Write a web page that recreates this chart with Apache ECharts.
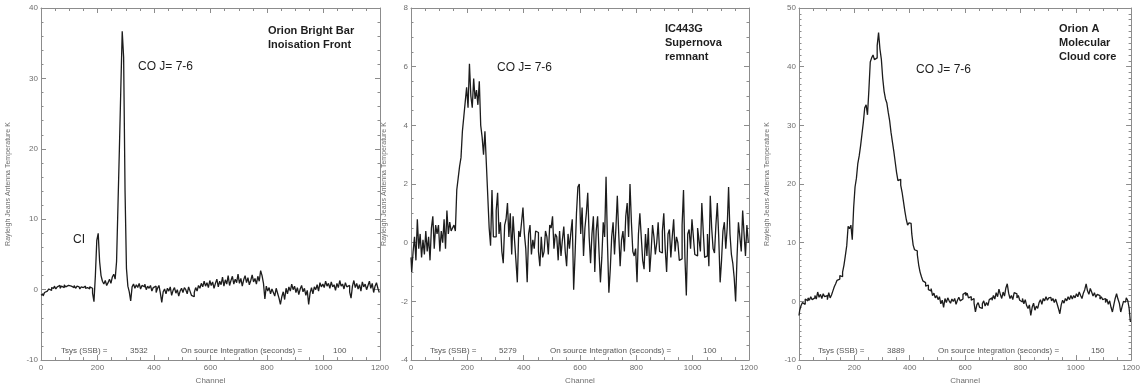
<!DOCTYPE html>
<html>
<head>
<meta charset="utf-8">
<script src="https://cdn.jsdelivr.net/npm/echarts@6/dist/echarts.min.js"></script>
<style>
  html, body { margin: 0; padding: 0; background: #fff; }
  #chart { width: 1143px; height: 390px; }
</style>
</head>
<body>
<div id="chart"></div>
<script>
// spectra sampled every 5 channels, 0..1200
const CHANNEL_STEP = 5;

const orionBar = [
  -0.8,-0.6,-0.9,-0.4,-0.2,-0.3,0.1,-0.1,0.3,0.2,0.5,0.1,0.4,0.6,0.2,0.5,0.3,0.7,0.4,0.6,
  0.8,0.5,0.7,0.3,0.6,0.2,0.5,0.4,0.1,0.4,0.3,0.5,0.2,0.3,0.1,0.4,0.2,-0.5,-1.7,2.0,
  7.0,8.0,4.0,2.0,1.2,0.8,1.3,0.6,1.0,1.5,0.9,1.8,2.2,1.5,4.0,12.0,20.0,28.5,36.7,33.0,
  14.0,3.0,0.5,-0.3,-1.6,0.4,0.8,0.2,0.7,0.3,0.9,0.1,0.6,0.4,0.8,0.0,0.5,0.2,0.6,-0.2,
  0.3,0.5,-0.4,0.2,0.6,-0.5,-1.8,-0.3,0.1,-0.6,0.2,-0.2,0.4,-0.8,-0.1,0.3,-0.5,0.0,-0.9,-0.2,
  0.2,-0.4,0.3,0.0,-0.6,0.4,-0.2,-0.8,-1.0,-0.4,0.3,-0.2,0.6,0.2,0.9,0.4,1.2,0.5,1.0,0.3,
  1.3,0.6,1.1,0.2,0.9,1.5,0.4,1.2,0.7,1.8,0.5,1.4,0.8,2.0,0.6,1.3,1.9,0.8,1.5,1.0,
  2.2,0.9,1.6,0.5,1.4,2.0,1.0,1.7,0.7,1.3,2.1,1.1,1.6,0.8,1.9,1.2,2.7,2.0,0.9,-1.3,
  0.5,-0.2,0.3,-0.6,0.1,-0.4,-0.9,0.2,-0.5,-1.2,-2.1,-1.0,-0.3,-1.4,0.2,-0.6,0.4,-0.2,0.8,0.0,
  0.5,-0.4,0.3,-0.7,0.1,0.6,-0.3,0.2,-0.8,-0.1,-2.1,-0.5,0.3,-0.6,0.4,0.0,0.7,-0.2,1.0,0.4,
  0.8,0.3,1.2,0.5,0.9,0.2,1.1,0.4,0.7,-0.1,0.9,0.3,1.3,0.5,0.8,0.1,1.0,0.4,0.6,-0.3,
  -1.2,0.5,1.3,0.3,0.9,0.1,0.7,-0.2,1.1,0.4,0.8,0.0,0.6,1.2,0.2,0.9,-0.4,0.5,1.0,0.2,
  -0.4
];

const ic443g = [
  -0.5,-1.0,-0.3,0.2,-0.6,0.8,-0.2,0.3,-0.5,0.1,-0.4,0.4,-0.3,0.2,-0.6,0.5,0.9,-0.2,0.6,0.3,
  0.6,-0.3,0.4,0.0,0.8,-0.2,1.1,0.3,0.7,0.4,0.5,0.6,0.4,1.8,2.2,2.6,2.9,3.8,4.3,4.8,
  5.3,4.6,6.1,5.0,4.6,5.6,4.9,5.2,4.7,5.5,4.0,3.6,3.0,3.8,2.7,1.6,0.5,-0.1,1.8,0.2,
  0.2,1.1,1.7,0.3,0.7,-0.3,-0.7,0.6,0.8,1.35,0.2,1.0,-0.4,0.9,0.1,-0.6,-1.35,0.4,0.2,0.7,
  1.2,0.3,-0.2,-1.35,0.3,0.6,-0.4,0.1,-0.2,0.4,0.35,-0.3,-0.8,0.2,-0.5,-0.3,0.4,0.2,-0.4,0.6,
  0.5,0.9,-0.2,0.3,0.2,-0.6,0.4,-0.45,0.1,0.55,-0.3,-0.8,0.3,-0.2,0.35,0.8,-1.6,-0.4,1.0,1.9,
  2.0,0.3,1.2,-0.45,0.5,1.0,1.7,0.2,-0.7,0.3,0.9,-1.0,0.4,0.9,-0.3,-1.35,-0.5,0.7,0.2,2.25,
  0.0,-1.7,-0.9,0.2,0.7,-0.4,0.5,1.6,0.3,-0.8,0.1,0.4,-0.3,0.9,1.35,0.2,2.0,0.7,-0.3,-0.45,
  -0.2,-1.35,0.3,1.0,0.2,-0.6,-0.9,0.3,-0.45,0.5,-1.0,-0.3,0.6,0.2,-0.4,0.0,0.7,-0.3,-0.35,0.4,
  1.0,-0.2,-1.0,0.3,0.45,-0.5,0.2,0.8,-0.3,0.2,0.0,-0.6,-0.55,0.6,1.8,-0.5,-1.8,0.3,0.45,-0.2,
  0.8,0.2,-0.4,-0.45,0.5,0.1,-0.3,1.35,0.4,-0.5,-0.45,0.3,-0.8,1.6,0.5,-0.2,-0.35,0.6,1.35,0.2,
  -1.35,-0.6,0.4,0.7,-0.2,0.5,1.9,0.3,-0.4,-0.7,-1.2,-2.0,-0.5,0.7,0.2,-0.3,1.1,0.3,-0.45,0.6,
  0.0
];

const orionA = [
  -2.4,-1.5,-0.7,-0.2,-0.5,0.4,0.1,0.6,0.2,0.8,0.3,0.6,1.0,0.4,1.6,0.7,1.2,0.5,1.3,0.8,
  1.0,0.3,1.5,0.6,1.1,1.8,2.5,3.0,3.6,3.8,4.4,4.2,5.0,6.2,7.8,9.5,12.8,12.4,13.0,10.5,
  16.0,19.5,21.0,23.5,24.8,26.5,28.5,30.5,33.0,33.5,31.8,36.0,40.8,41.5,42.0,41.2,41.5,43.6,45.8,43.0,
  41.3,38.0,35.8,34.5,33.8,32.2,30.8,28.8,27.2,25.6,23.8,22.0,20.6,20.8,19.8,18.6,17.0,15.4,14.0,13.0,
  13.4,13.3,11.5,9.6,8.8,8.6,8.0,6.2,5.0,4.2,3.5,3.2,2.6,2.8,2.0,1.8,2.2,1.0,1.4,0.6,
  1.0,0.3,0.8,-0.4,0.2,-1.0,0.5,-0.2,0.6,0.1,-0.3,0.4,0.0,0.5,-0.5,0.2,0.7,0.1,0.4,1.2,
  1.5,1.0,1.4,0.6,0.8,0.2,0.5,-0.3,-1.8,-0.6,-0.2,-1.0,-1.2,-0.4,0.1,-0.8,-0.2,-0.7,0.3,0.6,
  0.2,1.0,0.4,1.5,0.8,2.1,1.2,0.5,1.6,0.9,2.3,3.0,1.4,0.5,1.0,0.3,1.5,1.3,0.6,1.0,
  0.2,-0.1,0.5,-0.4,0.3,-0.7,-1.2,-0.6,-2.4,-1.0,-0.3,-1.5,-0.8,-1.2,-0.2,0.3,-0.5,0.5,0.1,0.8,
  0.2,0.6,0.7,0.1,0.5,-0.2,0.4,-0.4,-1.2,-2.1,-0.6,0.2,-0.3,0.5,0.1,0.8,0.3,1.0,0.4,1.0,
  0.6,1.3,0.8,1.6,1.0,0.5,1.4,2.0,3.0,1.8,1.2,2.2,1.6,0.9,1.5,0.7,1.2,1.0,0.4,0.8,
  0.3,0.5,-0.2,0.4,-0.5,0.1,-1.0,-1.8,-0.6,0.5,1.3,0.4,-0.3,-1.8,-0.9,0.0,-0.1,0.6,0.2,-1.0,
  -3.5
];

const yRanges = [
  { min: -10, max: 40, interval: 10, minor: 5 },
  { min: -4, max: 8, interval: 2, minor: 4 },
  { min: -10, max: 50, interval: 10, minor: 10 }
];

const tsysValues = ['3532', '5279', '3889'];
const integrationValues = ['100', '100', '150'];

const AXIS_COLOR = '#8c8c8c';
const LABEL_COLOR = '#6e6e6e';
const FONT = '"Liberation Sans", Arial, sans-serif';

const grids = [
  { left: 41, top: 8, width: 339, height: 357 },
  { left: 411, top: 8, width: 338, height: 357 },
  { left: 799, top: 8, width: 339, height: 357 }
];
const yNameGaps = [29, 23, 28];

const tickStyle = (len) => ({
  show: true, inside: true, length: len,
  lineStyle: { color: AXIS_COLOR, width: 1 }
});

const xAxes = [];
const yAxes = [];
grids.forEach((g, i) => {
  ['bottom', 'top'].forEach((pos) => {
    xAxes.push({
      type: 'value', gridIndex: i, position: pos,
      min: 0, max: 1200, interval: 200,
      name: pos === 'bottom' ? 'Channel' : '',
      nameLocation: 'middle', nameGap: 14,
      nameTextStyle: { color: LABEL_COLOR, fontSize: 8, fontFamily: FONT },
      axisLine: { show: true, onZero: false, lineStyle: { color: AXIS_COLOR, width: 1 } },
      axisTick: tickStyle(5),
      minorTick: { show: true, splitNumber: 4, length: 3, lineStyle: { color: AXIS_COLOR } },
      axisLabel: {
        show: pos === 'bottom', color: LABEL_COLOR, fontSize: 8, margin: 4,
        fontFamily: FONT, showMaxLabel: true, showMinLabel: true,
        formatter: (v) => String(v)
      },
      splitLine: { show: false }
    });
  });
  const r = yRanges[i];
  ['left', 'right'].forEach((pos) => {
    yAxes.push({
      type: 'value', gridIndex: i, position: pos,
      min: r.min, max: r.max, interval: r.interval,
      name: pos === 'left' ? 'Rayleigh Jeans Antenna Temperature K' : '',
      nameLocation: 'middle', nameGap: yNameGaps[i], nameRotate: 90,
      nameTextStyle: { color: LABEL_COLOR, fontSize: 7, fontFamily: FONT },
      axisLine: { show: true, onZero: false, lineStyle: { color: AXIS_COLOR, width: 1 } },
      axisTick: tickStyle(5),
      minorTick: { show: true, splitNumber: r.minor, length: 2.5, lineStyle: { color: AXIS_COLOR } },
      axisLabel: {
        show: pos === 'left', color: LABEL_COLOR, fontSize: 8, margin: 3, fontFamily: FONT,
        formatter: (v) => String(v)
      },
      splitLine: { show: false }
    });
  });
});

const spectra = [orionBar, ic443g, orionA];
const series = spectra.map((vals, i) => ({
  type: 'line',
  xAxisIndex: i * 2,
  yAxisIndex: i * 2,
  data: vals.map((v, k) => [k * CHANNEL_STEP, v]),
  step: 'middle',
  showSymbol: false,
  animation: false,
  lineStyle: { color: '#1c1c1c', width: 1.3 }
}));

// annotation text
const txt = (x, y, text, size, weight, color) => ({
  type: 'text', x: x, y: y, silent: true,
  style: {
    text: text, fill: color || '#1e1e1e', fontSize: size,
    fontWeight: weight || 'normal', fontFamily: FONT, verticalAlign: 'middle'
  }
});

const graphic = [
  txt(268, 31, 'Orion Bright Bar', 11, 'bold'),
  txt(268, 45, 'Inoisation Front', 11, 'bold'),
  txt(138, 67, 'CO J= 7-6', 12),
  txt(73, 240, 'CI', 12),
  txt(665, 29, 'IC443G', 11, 'bold'),
  txt(665, 43, 'Supernova', 11, 'bold'),
  txt(665, 57, 'remnant', 11, 'bold'),
  txt(497, 68, 'CO J= 7-6', 12),
  txt(1059, 29, 'Orion A', 11, 'bold'),
  txt(1059, 43, 'Molecular', 11, 'bold'),
  txt(1059, 57, 'Cloud core', 11, 'bold'),
  txt(916, 70, 'CO J= 7-6', 12)
];

// Tsys / integration footers
const footX = [
  [61, 130, 181, 333],
  [430, 499, 550, 703],
  [818, 887, 938, 1091]
];
footX.forEach((fx, i) => {
  graphic.push(txt(fx[0], 351, 'Tsys (SSB) =', 8, 'normal', '#555'));
  graphic.push(txt(fx[1], 351, tsysValues[i], 8, 'normal', '#555'));
  graphic.push(txt(fx[2], 351, 'On source Integration (seconds) =', 8, 'normal', '#555'));
  graphic.push(txt(fx[3], 351, integrationValues[i], 8, 'normal', '#555'));
});

const chart = echarts.init(document.getElementById('chart'), null, { renderer: 'canvas' });
chart.setOption({
  backgroundColor: '#fff',
  animation: false,
  grid: grids,
  xAxis: xAxes,
  yAxis: yAxes,
  series: series,
  graphic: graphic
});
</script>
</body>
</html>
